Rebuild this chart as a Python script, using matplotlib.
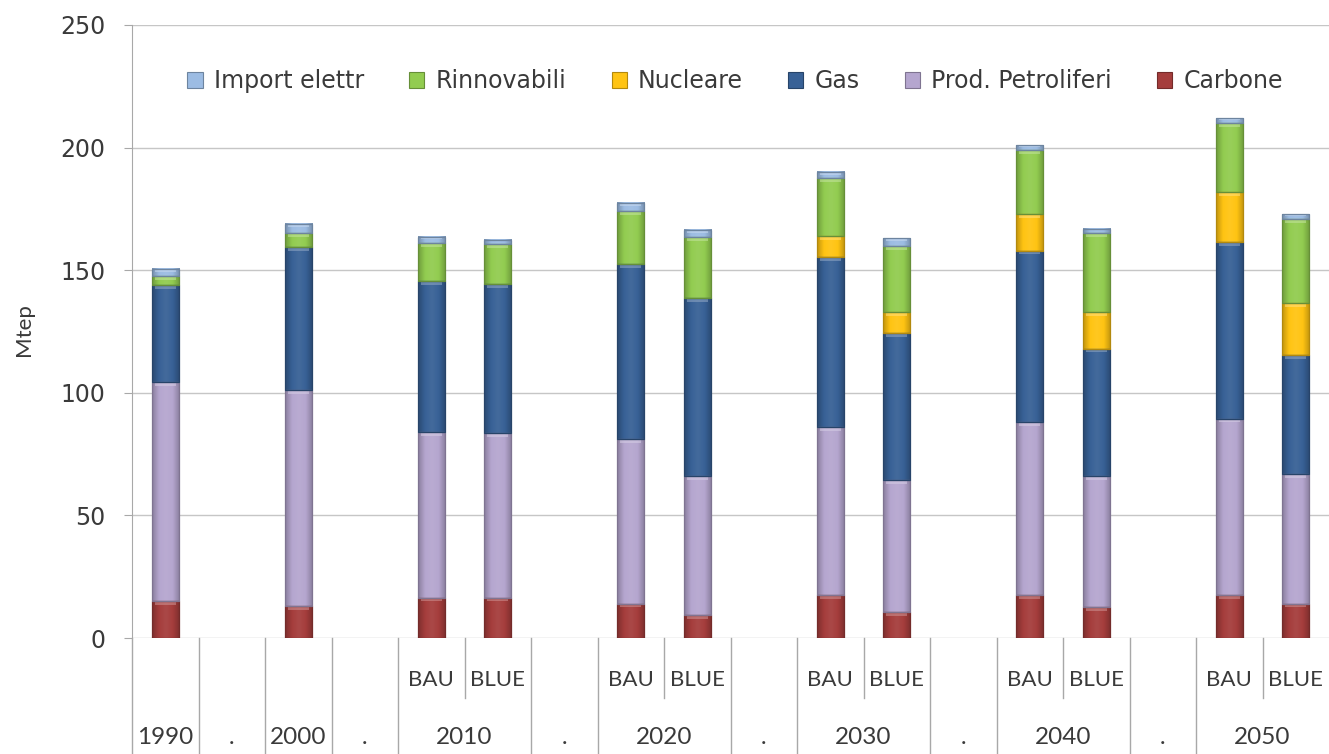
import numpy as np
import matplotlib
matplotlib.use("Agg")
import matplotlib.pyplot as plt
from matplotlib.colors import LinearSegmentedColormap, to_rgb
from matplotlib.patches import Patch, Rectangle

# Column layout of the category axis ("." marks an empty spacer column)
columns = ["1990", ".", "2000", ".", "2010 BAU", "2010 BLUE", ".",
           "2020 BAU", "2020 BLUE", ".", "2030 BAU", "2030 BLUE", ".",
           "2040 BAU", "2040 BLUE", ".", "2050 BAU", "2050 BLUE"]

# Primary energy supply by source, Mtep (one value per bar, in column order)
carbone = [15, 13, 16.5, 16.5, 14, 9.5, 17.5, 10.5, 17.5, 12.5, 17.5, 14]
petroliferi = [89.5, 88, 67.5, 67, 67, 56.5, 68.5, 54, 70.5, 53.5, 72, 53]
gas = [39.5, 58.5, 61.5, 61, 71.5, 72.5, 69.5, 60, 70, 52, 72, 48.5]
nucleare = [0, 0, 0, 0, 0, 0, 8.5, 8.5, 15, 15, 20.5, 21]
rinnovabili = [3.5, 5.5, 15.5, 16, 21.5, 25, 23.5, 27, 26, 32, 28, 34.5]
import_elettr = [3, 4, 2.5, 2, 3.5, 3, 2.5, 3, 2, 2, 2, 2]

series_names = ["Carbone", "Prod. Petroliferi", "Gas", "Nucleare",
                "Rinnovabili", "Import elettr"]
series_values = [carbone, petroliferi, gas, nucleare, rinnovabili, import_elettr]
series_colors = ["#A53D3C", "#B5A6CF", "#386196", "#FFC413", "#92CC50", "#9CBCE3"]

y_ticks = [0, 50, 100, 150, 200, 250]

TEXT = "#3a3a3a"
LINE = "#a8a8a8"


def shade(color, f):
    r, g, b = to_rgb(color)
    if f < 1:
        return (r * f, g * f, b * f)
    return (r + (1 - r) * (f - 1), g + (1 - g) * (f - 1), b + (1 - b) * (f - 1))


fig = plt.figure(figsize=(13.29, 7.54), dpi=100)
ax = fig.add_axes([132 / 1329, 1 - 638 / 754, 1197 / 1329, 613 / 754])

positions = np.array([i for i, c in enumerate(columns) if c != "."], dtype=float)
bar_w = 0.41
bottom = np.zeros(len(positions))

grad = np.linspace(0, 1, 64).reshape(1, -1)
for name, vals, col in zip(series_names, series_values, series_colors):
    vals = np.asarray(vals, dtype=float)
    bars = ax.bar(positions, vals, width=bar_w, bottom=bottom, color=col,
                  linewidth=0, zorder=3, label=name)
    cmap = LinearSegmentedColormap.from_list(
        name, [shade(col, 0.76), col, shade(col, 1.06), col, shade(col, 0.76)])
    edge = shade(col, 0.7)
    hi = shade(col, 1.45)
    for b, v in zip(bars, vals):
        if v <= 0:
            continue
        x0, y0 = b.get_xy()
        w, h = b.get_width(), b.get_height()
        ax.imshow(grad, cmap=cmap, extent=(x0, x0 + w, y0, y0 + h),
                  aspect="auto", interpolation="bicubic", zorder=3.1,
                  clip_path=b)
        # light bevel at the top of each segment
        cap = min(1.2, h * 0.3)
        ax.add_patch(Rectangle((x0 + w * 0.12, y0 + h - cap * 1.3), w * 0.76, cap,
                               facecolor=hi, edgecolor="none", alpha=0.55,
                               zorder=3.2))
        ax.add_patch(Rectangle((x0, y0), w, h, fill=False, edgecolor=edge,
                               linewidth=0.9, zorder=3.3))
    bottom += vals

ax.set_xlim(-0.5, len(columns) - 0.5)
ax.set_ylim(0, 250)
ax.set_yticks(y_ticks)
ax.set_xticks([])
ax.yaxis.grid(True, color="#c6c6c6", linewidth=1.0, zorder=0)
ax.set_axisbelow(True)
for s in ["top", "right", "bottom"]:
    ax.spines[s].set_visible(False)
ax.spines["left"].set_color(LINE)
ax.tick_params(axis="y", length=6, color=LINE, pad=13, labelsize=17,
               labelcolor=TEXT)
for lab in ax.get_yticklabels():
    lab.set_fontfamily("DejaVu Sans")

# Category table below the plot area
tr = ax.get_xaxis_transform()
y_bottom = -0.19
y_mid = -0.098
ax.plot([-0.5, -0.5], [0, y_bottom], transform=tr, color=LINE, lw=1,
        clip_on=False)
for k in range(len(columns) - 1):
    left, right = columns[k], columns[k + 1]
    inner = (left.endswith("BAU") and right.endswith("BLUE"))
    ax.plot([k + 0.5, k + 0.5], [0, y_mid if inner else y_bottom],
            transform=tr, color=LINE, lw=1, clip_on=False)

base_font = dict(family="Lato", color=TEXT, ha="center", va="center",
                 transform=tr, clip_on=False)
years = {}
for i, c in enumerate(columns):
    if c == ".":
        ax.text(i, -0.163, ".", fontsize=17, **base_font)
    elif " " in c:
        yr, sc = c.split(" ")
        ax.text(i, -0.069, sc, fontsize=16, **base_font)
        years.setdefault(yr, []).append(i)
    else:
        years.setdefault(c, []).append(i)
for yr, idx in years.items():
    ax.text(np.mean(idx), -0.163, yr, fontsize=17.5, **base_font)

fig.text(24 / 1329, 1 - 330 / 754, "Mtep", rotation=90, ha="center",
         va="center", fontsize=16, family="Lato", color=TEXT)

# Legend (top series first)
handles = [Patch(facecolor=c, edgecolor=shade(c, 0.7), linewidth=0.8)
           for c in series_colors][::-1]
ax.legend(handles, series_names[::-1], loc="center", ncol=6,
          bbox_to_anchor=(0.5038, 0.908), frameon=False,
          prop=dict(family="DejaVu Sans", size=17), labelcolor=TEXT,
          handlelength=0.64, handleheight=0.64, handletextpad=0.47,
          columnspacing=1.92)

fig.savefig("out.png", dpi=100, facecolor="white")
